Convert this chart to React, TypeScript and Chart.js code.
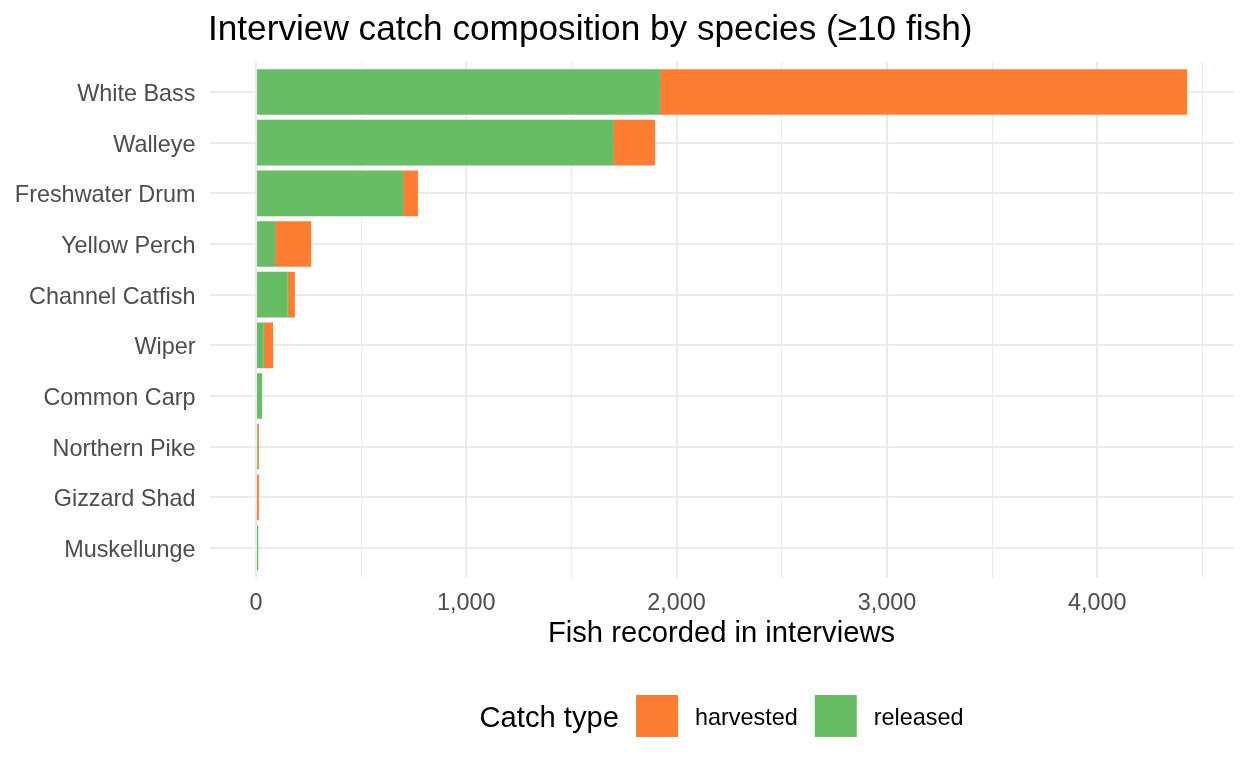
import React, { useEffect, useRef } from "react";
import { Chart, registerables } from "chart.js";

Chart.register(...registerables);

const categories = [
  "White Bass",
  "Walleye",
  "Freshwater Drum",
  "Yellow Perch",
  "Channel Catfish",
  "Wiper",
  "Common Carp",
  "Northern Pike",
  "Gizzard Shad",
  "Muskellunge",
];
const released = [1921, 1698, 699, 90, 151, 37, 29, 8, 0, 11];
const harvested = [2506, 199, 71, 172, 34, 44, 0, 6, 14, 0];

const xMajorTicks = [0, 1000, 2000, 3000, 4000];
const xMinorTicks = [500, 1500, 2500, 3500, 4500];

const titleText = "Interview catch composition by species (\u226510 fish)";
const xTitleText = "Fish recorded in interviews";
const legendTitle = "Catch type";

const GREEN = "#66BD63";
const ORANGE = "#FD7E32";
const FONT = "'Liberation Sans', Arial, Helvetica, sans-serif";
const AXIS_TEXT = 23.4;
const TITLE_SIZE = 35.2;
const AXIS_TITLE = 29.2;

const textPlugin = {
  id: "ggText",
  afterDraw(chart: any) {
    const ctx = chart.ctx;
    const area = chart.chartArea;
    const cx = (area.left + area.right) / 2;
    ctx.save();
    ctx.fillStyle = "#000000";
    ctx.textBaseline = "alphabetic";
    ctx.textAlign = "left";
    ctx.font = `${TITLE_SIZE}px ${FONT}`;
    ctx.fillText(titleText, area.left - 1.5, 40);
    ctx.font = `${AXIS_TITLE}px ${FONT}`;
    ctx.textAlign = "center";
    ctx.fillText(xTitleText, cx, 642);
    ctx.textAlign = "left";
    ctx.font = `${AXIS_TITLE}px ${FONT}`;
    const wT = ctx.measureText(legendTitle).width;
    ctx.font = `${AXIS_TEXT}px ${FONT}`;
    const items = [
      { label: "harvested", color: ORANGE },
      { label: "released", color: GREEN },
    ];
    const widths = items.map((it) => ctx.measureText(it.label).width);
    const gap = 17;
    const box = 42;
    let total = wT;
    widths.forEach((w) => {
      total += gap + box + gap + w;
    });
    let x = cx - total / 2;
    ctx.font = `${AXIS_TITLE}px ${FONT}`;
    ctx.fillText(legendTitle, x, 726.5);
    x += wT;
    ctx.font = `${AXIS_TEXT}px ${FONT}`;
    items.forEach((it, i) => {
      x += gap;
      ctx.fillStyle = it.color;
      ctx.fillRect(x, 695, box, box);
      x += box + gap;
      ctx.fillStyle = "#000000";
      ctx.fillText(it.label, x, 725);
      x += widths[i];
    });
    ctx.restore();
  },
};

export default function App() {
  const ref = useRef<HTMLCanvasElement | null>(null);

  useEffect(() => {
    document.body.style.margin = "0";
    const canvas = ref.current;
    if (!canvas) return;
    const toPoints = (arr: number[]) =>
      arr.map((v, i) => ({ x: v === 0 ? null : v, y: i }));
    const chart = new Chart(canvas, {
      type: "bar",
      data: {
        datasets: [
          {
            label: "released",
            data: toPoints(released),
            backgroundColor: GREEN,
            borderWidth: 0,
            borderSkipped: false,
            barPercentage: 0.9,
            categoryPercentage: 1,
          },
          {
            label: "harvested",
            data: toPoints(harvested),
            backgroundColor: ORANGE,
            borderWidth: 0,
            borderSkipped: false,
            barPercentage: 0.9,
            categoryPercentage: 1,
          },
        ],
      },
      options: {
        indexAxis: "y",
        animation: false,
        responsive: false,
        maintainAspectRatio: false,
        layout: { padding: { top: 61.6, right: 14.5, left: 0, bottom: 0 } },
        plugins: {
          legend: { display: false },
          title: { display: false },
          tooltip: { enabled: false },
        },
        scales: {
          x: {
            type: "linear",
            stacked: true,
            offset: false,
            min: -221,
            max: 4648,
            afterBuildTicks(scale: any) {
              scale.ticks = [...xMajorTicks, ...xMinorTicks]
                .sort((a, b) => a - b)
                .map((v) => ({ value: v }));
            },
            afterFit(scale: any) {
              scale.height = 768 - 578.4;
            },
            border: { display: false },
            grid: {
              offset: false,
              color: "#EBEBEB",
              lineWidth: (c: any) =>
                c.tick && xMajorTicks.includes(c.tick.value) ? 2.1 : 1.1,
              drawTicks: false,
            },
            ticks: {
              autoSkip: false,
              maxRotation: 0,
              padding: 11.5,
              color: "#4D4D4D",
              font: { family: FONT, size: AXIS_TEXT },
              callback: (v: any) =>
                xMajorTicks.includes(Number(v))
                  ? Number(v).toLocaleString("en-US")
                  : "",
            },
          },
          y: {
            type: "linear",
            stacked: true,
            reverse: true,
            offset: false,
            min: -0.6,
            max: categories.length - 1 + 0.6,
            afterBuildTicks(scale: any) {
              scale.ticks = categories.map((_, i) => ({ value: i }));
            },
            afterFit(scale: any) {
              scale.width = 209.5;
            },
            border: { display: false },
            grid: {
              offset: false,
              color: "#EBEBEB",
              lineWidth: 2.1,
              drawTicks: false,
            },
            ticks: {
              autoSkip: false,
              padding: 14,
              labelOffset: 2.5,
              color: "#4D4D4D",
              font: { family: FONT, size: AXIS_TEXT },
              callback: (v: any) => categories[Number(v)] ?? "",
            },
          },
        },
      },
      plugins: [textPlugin],
    } as any);
    return () => chart.destroy();
  }, []);

  return (
    <div style={{ position: "absolute", left: 0, top: 0, width: 1248, height: 768, background: "#fff" }}>
      <canvas ref={ref} width={1248} height={768} style={{ display: "block", width: 1248, height: 768 }} />
    </div>
  );
}
